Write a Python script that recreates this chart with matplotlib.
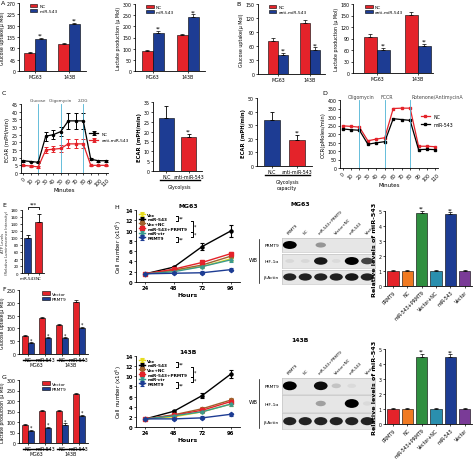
import numpy as np
import matplotlib
matplotlib.use('Agg')
import matplotlib.pyplot as plt
from matplotlib.patches import Ellipse
from matplotlib.lines import Line2D

W, H = 474, 460
RED = '#e4232a'
BLUE = '#1d3c93'

# ---- A / B : glucose uptake and lactate production ----
cells = ['MG63', '143B']
a1_nc, a1_nc_err = [72, 108], [4, 4]
a1_mir, a1_mir_err = [128, 187], [5, 5]
a2_nc, a2_nc_err = [90, 160], [6, 5]
a2_mir, a2_mir_err = [172, 243], [8, 10]
b1_nc, b1_nc_err = [70, 110], [7, 6]
b1_anti, b1_anti_err = [40, 51], [6, 6]
b2_nc, b2_nc_err = [95, 152], [7, 6]
b2_anti, b2_anti_err = [60, 70], [6, 6]

# ---- C : ECAR ----
minutes = [0, 10, 20, 30, 40, 50, 60, 70, 80, 90, 100, 110]
ecar_nc = [8, 7.5, 7, 24, 25, 27, 34, 34, 34, 9, 8, 8]
ecar_nc_err = [0.5, 0.5, 0.5, 3, 3, 3, 5, 5, 5, 0.5, 0.5, 0.5]
ecar_anti = [5, 4.5, 4, 15, 15.5, 16, 19, 19, 19, 5, 5, 5]
ecar_anti_err = [0.5, 0.5, 0.5, 2, 2, 2, 3, 3, 3, 0.5, 0.5, 0.5]
ecar_groups = ['N.C', 'anti-miR-543']
glycolysis, glycolysis_err = [27, 17], [6, 2]
capacity, capacity_err = [34, 19], [6, 4]

# ---- D : OCR ----
ocr_nc = [248, 245, 240, 160, 170, 178, 350, 352, 352, 128, 128, 125]
ocr_mir = [230, 225, 222, 140, 148, 155, 290, 285, 280, 108, 110, 108]

# ---- E : ATP ----
atp_groups = ['miR-543', 'NC']
atp, atp_err = [100, 147], [10, 23]

# ---- F / G ----
fg_groups = ['NC', 'miR-543', 'NC', 'miR-543']
f_vector, f_vector_err = [70, 140, 113, 203], [5, 5, 5, 6]
f_prmt9, f_prmt9_err = [42, 62, 62, 102], [4, 4, 4, 5]
g_vector, g_vector_err = [85, 153, 153, 233], [5, 5, 5, 6]
g_prmt9, g_prmt9_err = [58, 72, 88, 128], [4, 4, 5, 6]

# ---- H : growth curves ----
hours = [24, 48, 72, 96]
growth_names = ['Vec', 'miR-543', 'Vec+NC', 'miR-543+PRMT9', 'miR-ctr', 'PRMT9']
growth_colors = ['#e6dc1e', 'black', '#a0622d', RED, '#3b9a8c', BLUE]
growth_markers = ['v', 'o', 'h', 's', 'P', 'D']
mg63_vec = [1.6, 2.2, 3.0, 4.5]
mg63_mir = [1.6, 2.9, 6.9, 9.9]
mg63_vecnc = [1.6, 2.3, 3.3, 5.0]
mg63_mirprmt9 = [1.6, 2.5, 3.8, 5.5]
mg63_mirctr = [1.6, 2.0, 3.0, 4.3]
mg63_prmt9 = [1.6, 1.7, 1.8, 2.4]
mg63_mir_err = [0.1, 0.2, 0.6, 1.2]
b143_vec = [1.6, 2.0, 3.0, 4.5]
b143_mir = [1.6, 3.1, 6.2, 10.4]
b143_vecnc = [1.6, 2.4, 3.6, 5.3]
b143_mirprmt9 = [1.6, 2.3, 3.3, 5.0]
b143_mirctr = [1.6, 2.2, 3.0, 4.5]
b143_prmt9 = [1.6, 1.6, 1.8, 2.5]
b143_mir_err = [0.1, 0.2, 0.5, 0.8]

# ---- H : western blots and qPCR ----
lanes = ['PRMT9', 'NC', 'miR-543+PRMT9', 'Vector+NC', 'miR-543', 'Vector']
lane_colors = ['#e4232a', '#f07a22', '#2f8f3f', '#2a8fae', '#1d3c93', '#7a3b97']
mg63_prmt9_band = [1.0, 0.0, 0.35, 0.0, 0.0, 0.0]
mg63_hif_band = [0.06, 0.06, 0.9, 0.05, 1.0, 0.7]
mg63_actin_band = [0.85, 0.85, 0.85, 0.85, 0.9, 0.85]
b143_prmt9_band = [1.0, 0.0, 0.95, 0.15, 0.05, 0.0]
b143_hif_band = [0.0, 0.0, 0.3, 0.0, 1.0, 0.05]
b143_actin_band = [0.85, 0.85, 0.85, 0.85, 0.85, 0.85]
mg63_levels, mg63_levels_err = [1.0, 1.0, 4.9, 1.0, 4.8, 1.0], [0.08, 0.08, 0.1, 0.05, 0.12, 0.08]
b143_levels, b143_levels_err = [1.0, 1.0, 4.5, 1.0, 4.45, 1.0], [0.08, 0.08, 0.2, 0.05, 0.2, 0.08]

FS = 3.4
fig = plt.figure(figsize=(W / 100, H / 100), dpi=100)


def px_axes(x0, y0, x1, y1):
    return fig.add_axes([x0 / W, 1 - y1 / H, (x1 - x0) / W, (y1 - y0) / H])


def style(ax):
    for s in ['top', 'right']:
        ax.spines[s].set_visible(False)
    for s in ['left', 'bottom']:
        ax.spines[s].set_linewidth(0.6)
    ax.tick_params(labelsize=FS, length=1.5, width=0.5, pad=1)


def pair_bars(ax, groups, a, a_err, b, b_err, names, ymax, step, ylabel, xlim, stars='**'):
    x = np.arange(len(groups))
    w = 0.32
    kw = dict(edgecolor='black', linewidth=0.4, capsize=1.2,
              error_kw=dict(elinewidth=0.5, capthick=0.5))
    ax.bar(x - w / 2, a, w, yerr=[np.zeros(len(a)), a_err], color=RED, label=names[0], **kw)
    ax.bar(x + w / 2, b, w, yerr=[np.zeros(len(b)), b_err], color=BLUE, label=names[1], **kw)
    for xi, v, e in zip(x + w / 2, b, b_err):
        ax.text(xi, v + e, stars, ha='center', va='bottom', fontsize=FS)
    ax.set_ylim(0, ymax)
    ax.set_yticks(np.arange(0, ymax + 1, step))
    ax.set_xlim(*xlim)
    ax.set_xticks(x)
    ax.set_xticklabels(groups)
    ax.set_ylabel(ylabel, fontsize=FS, labelpad=1)
    style(ax)
    ax.legend(loc='upper left', bbox_to_anchor=(0.12, 1.03), fontsize=FS - 0.2, frameon=False,
              handlelength=1.7, handleheight=0.8, borderaxespad=0.2, labelspacing=0.25,
              handletextpad=0.5)


# A
ax = px_axes(19, 4, 86, 72)
pair_bars(ax, cells, a1_nc, a1_nc_err, a1_mir, a1_mir_err, ['NC', 'miR-543'], 270, 45,
          'Glucose uptake(\u03bc Mol)', (-0.48, 1.5))
ax = px_axes(135, 5, 205, 72)
pair_bars(ax, cells, a2_nc, a2_nc_err, a2_mir, a2_mir_err, ['NC', 'miR-543'], 300, 50,
          'Lactate production (\u03bc Mol)', (-0.51, 1.49))
# B
ax = px_axes(258, 5, 325, 75)
pair_bars(ax, cells, b1_nc, b1_nc_err, b1_anti, b1_anti_err, ['NC', 'anti-miR-543'], 150, 30,
          'Glucose uptake(\u03bc Mol)', (-0.62, 1.47))
ax = px_axes(353, 5, 433, 74)
pair_bars(ax, cells, b2_nc, b2_nc_err, b2_anti, b2_anti_err, ['NC', 'anti-miR-543'], 180, 30,
          'Lactate production (\u03bc Mol)', (-0.59, 1.38))

# C - ECAR time course
ax = px_axes(21, 105, 108, 174)
ax.errorbar(minutes, ecar_nc, yerr=ecar_nc_err, color='black', marker='o', ms=1.5, lw=0.9,
            elinewidth=0.7, capsize=1.5, capthick=0.7, label='NC')
ax.errorbar(minutes, ecar_anti, yerr=ecar_anti_err, color=RED, marker='s', ms=1.5, lw=0.9,
            elinewidth=0.7, capsize=1.5, capthick=0.7, label='anti-miR-543')
for m, name in zip([20, 50, 80], ['Glucose', 'Oligomycin', '2-DG']):
    ax.axvline(m, color='#4cb3d4', lw=0.6)
    ax.text(m, 46.5, name, ha='center', va='bottom', fontsize=FS - 0.4, color='#444444')
ax.set_ylim(0, 45)
ax.set_yticks(np.arange(0, 46, 5))
ax.set_xlim(-3, 113)
ax.set_xticks(minutes)
ax.set_xticklabels(minutes, rotation=45)
ax.set_xlabel('Minutes', fontsize=FS + 0.6, labelpad=0.5)
ax.set_ylabel('ECAR (mPH/min)', fontsize=FS + 0.4, labelpad=1)
style(ax)
ax.legend(loc='center left', bbox_to_anchor=(0.74, 0.52), fontsize=FS - 0.3, frameon=False,
          handlelength=2, labelspacing=0.6)


def ecar_bars(ax, vals, errs, ymax, step, title):
    x = np.arange(2)
    ax.bar(x, vals, 0.65, yerr=[[0, 0], errs], color=[BLUE, RED], edgecolor='black', linewidth=0.4,
           capsize=1.5, error_kw=dict(elinewidth=0.6, capthick=0.6))
    ax.text(1, vals[1] + errs[1], '**', ha='center', va='bottom', fontsize=FS)
    ax.set_xlim(-0.6, 1.6)
    ax.set_ylim(0, ymax)
    ax.set_yticks(np.arange(0, ymax + 1, step))
    ax.set_xticks(x)
    ax.set_xticklabels(ecar_groups)
    ax.set_ylabel('ECAR (mPH/min)', fontsize=FS + 0.4, labelpad=1, weight='bold')
    style(ax)
    ax.plot([-0.3, 1.5], [-0.13 * ymax, -0.13 * ymax], color='black', lw=1.0, clip_on=False)
    ax.text(0.6, -0.19 * ymax, title, ha='center', va='top', fontsize=FS)


ax = px_axes(153, 103, 202, 172)
ecar_bars(ax, glycolysis, glycolysis_err, 35, 5, 'Glycolysis')
ax = px_axes(257, 99, 312, 167)
ecar_bars(ax, capacity, capacity_err, 50, 10, 'Glycolysis\ncapacity')

# D - OCR
ax = px_axes(340, 101, 438, 169)
ax.plot(minutes, ocr_nc, color=RED, marker='s', ms=1.5, lw=0.9, label='NC')
ax.plot(minutes, ocr_mir, color='black', marker='s', ms=1.5, lw=0.9, label='miR-543')
for m, name in zip([20, 50, 80], ['Oligomycin', 'FCCR', 'Rotenone/AntimycinA']):
    ax.axvline(m, color='#4cb3d4', lw=0.6)
    ax.text(m + 2, 408, name, ha='left' if m == 80 else 'center', va='bottom', fontsize=FS,
            color='#444444')
ax.set_ylim(0, 400)
ax.set_yticks(np.arange(0, 401, 50))
ax.set_xlim(-3, 113)
ax.set_xticks(minutes)
ax.set_xticklabels(minutes, rotation=45)
ax.set_xlabel('Minutes', fontsize=FS + 0.6, labelpad=0.5)
ax.set_ylabel('OCR(pMoles/min)', fontsize=FS + 0.4, labelpad=1)
style(ax)
ax.legend(loc='center left', bbox_to_anchor=(0.78, 0.7), fontsize=FS, frameon=False,
          handlelength=2, labelspacing=0.6)

# E - ATP
ax = px_axes(22, 211, 44, 274)
ax.bar([0, 1], atp, 0.62, yerr=[[0, 0], atp_err], color=[BLUE, RED], edgecolor='black',
       linewidth=0.4, capsize=1.5, error_kw=dict(elinewidth=0.6, capthick=0.6))
ax.plot([0, 0, 1, 1], [182, 190, 190, 182], color='black', lw=0.6, clip_on=False)
ax.text(0.5, 190, '***', ha='center', va='bottom', fontsize=FS)
ax.set_xlim(-0.5, 1.5)
ax.set_ylim(0, 180)
ax.set_yticks(np.arange(0, 181, 20))
ax.set_xticks([0, 1])
ax.set_xticklabels(atp_groups)
ax.set_ylabel('ATP Levels\n(Relative Luminescence Intensity)', fontsize=FS - 0.7,
              color='#333333', linespacing=1.0)
style(ax)
ax.tick_params(labelsize=FS - 0.5)
ax.yaxis.set_label_coords(-0.6, 0.5)


def fg_bars(ax, vec, vec_err, prm, prm_err, ymax, ylabel):
    x = np.arange(len(fg_groups))
    w = 0.36
    kw = dict(edgecolor='black', linewidth=0.4, capsize=1.2,
              error_kw=dict(elinewidth=0.5, capthick=0.5))
    ax.bar(x - w / 2, vec, w, yerr=[np.zeros(4), vec_err], color=RED, label='Vector', **kw)
    ax.bar(x + w / 2, prm, w, yerr=[np.zeros(4), prm_err], color=BLUE, label='PRMT9', **kw)
    for xi, v, e in zip(x + w / 2, prm, prm_err):
        ax.text(xi, v + e, '*', ha='center', va='bottom', fontsize=FS)
    ax.set_xlim(-0.55, 3.55)
    ax.set_ylim(0, ymax)
    ax.set_yticks(np.arange(0, ymax + 1, 50))
    ax.set_xticks(x)
    ax.set_xticklabels(fg_groups)
    ax.set_ylabel(ylabel, fontsize=FS - 0.1, labelpad=1)
    style(ax)
    for gx, gname in zip([0.5, 2.5], ['MG63', '143B']):
        ax.plot([gx - 0.8, gx + 0.8], [-0.1 * ymax, -0.1 * ymax], color='black', lw=1.0, clip_on=False)
        ax.text(gx, -0.13 * ymax, gname, ha='center', va='top', fontsize=FS)
    ax.legend(loc='upper left', bbox_to_anchor=(0.28, 1.04), fontsize=FS - 0.2, frameon=False,
              handlelength=1.7, handleheight=0.8, labelspacing=0.2, handletextpad=0.5)


ax = px_axes(19, 291, 88, 355)
fg_bars(ax, f_vector, f_vector_err, f_prmt9, f_prmt9_err, 250, 'Glucose uptake(\u03bc Mol)')
ax = px_axes(19, 381, 88, 444)
fg_bars(ax, g_vector, g_vector_err, g_prmt9, g_prmt9_err, 300, 'Lactate production (\u03bc Mol)')


# H - growth curves
def growth(ax, series, mir_err, title):
    for i, (vals, name, c, mk) in enumerate(zip(series, growth_names, growth_colors, growth_markers)):
        err = mir_err if i == 1 else [0.1, 0.2, 0.3, 0.35]
        ax.errorbar(hours, vals, yerr=err, color=c, marker=mk, ms=2.2 if i != 2 else 3,
                    lw=1.0, elinewidth=0.8, capsize=1.5, capthick=0.8, label=name)
    ax.set_xlim(16, 104)
    ax.set_ylim(0, 14)
    ax.set_yticks(np.arange(0, 15, 2))
    ax.set_xticks(hours)
    ax.set_xlabel('Hours', fontsize=FS + 1, labelpad=1, weight='bold')
    ax.set_ylabel('Cell number (x10$^5$)', fontsize=FS + 0.6, labelpad=1)
    ax.set_title(title, fontsize=FS + 1, weight='bold', pad=2)
    style(ax)
    ax.tick_params(labelsize=FS + 0.4)
    for t in ax.get_xticklabels() + ax.get_yticklabels():
        t.set_weight('bold')
    leg = ax.legend(loc='upper left', bbox_to_anchor=(0.0, 1.0), fontsize=FS - 0.3, frameon=False,
                    handlelength=1.6, labelspacing=0.15, borderaxespad=0.2, handletextpad=0.4)
    for t in leg.get_texts():
        t.set_weight('bold')
    # significance brackets
    tr = ax.transAxes
    for (y0, y1, xb, s) in [(0.92, 0.85, 0.40, '**'), (0.85, 0.70, 0.55, '*'),
                           (0.70, 0.63, 0.55, '*'), (0.63, 0.55, 0.40, '**')]:
        ax.plot([xb - 0.02, xb, xb, xb - 0.02], [y0, y0, y1, y1], color='black', lw=0.7,
                transform=tr)
        ax.text(xb + 0.01, (y0 + y1) / 2, s, transform=tr, fontsize=FS, va='center')


ax = px_axes(136, 211, 240, 283)
growth(ax, [mg63_vec, mg63_mir, mg63_vecnc, mg63_mirprmt9, mg63_mirctr, mg63_prmt9], mg63_mir_err, 'MG63')
ax = px_axes(136, 357, 240, 428)
growth(ax, [b143_vec, b143_mir, b143_vecnc, b143_mirprmt9, b143_mirctr, b143_prmt9], b143_mir_err, '143B')


def blot(rows, top, bottom, title, title_y):
    names = ['PRMT9', 'HIF-1\u03b1', '\u03b2-Actin']
    h = (bottom - top) / 3
    for r, (bands, name) in enumerate(zip(rows, names)):
        ax = px_axes(282, top + r * h + 0.8, 375, top + (r + 1) * h - 0.8)
        ax.set_facecolor('#e6e6e6')
        ax.set_xlim(0.5, 6.5)
        ax.set_ylim(0, 1)
        for i, v in enumerate(bands):
            if v > 0:
                ax.add_patch(Ellipse((i + 1, 0.5), 0.55 + 0.35 * v, 0.25 + 0.3 * v,
                                     color='black', alpha=min(1, v), lw=0))
        ax.set_yticks([0.5])
        ax.set_yticklabels([name])
        ax.tick_params(length=0, labelsize=FS - 0.2, pad=2)
        for s in ax.spines.values():
            s.set_color('#bbbbbb')
            s.set_linewidth(0.4)
        if r == 0:
            ax.xaxis.tick_top()
            ax.set_xticks(range(1, 7))
            ax.set_xticklabels(lanes, rotation=45, ha='left', rotation_mode='anchor', fontsize=FS - 0.6)
        else:
            ax.set_xticks([])
    fig.text(300 / W, 1 - title_y / H, title, fontsize=FS + 1, weight='bold', ha='center')
    fig.text(253 / W, 1 - (top + 1.4 * h) / H, 'WB', fontsize=FS + 0.5, va='center', ha='center')
    fig.add_artist(Line2D([259 / W, 259 / W], [1 - (top + 0.1 * h) / H, 1 - (top + 2.9 * h) / H],
                          color='black', lw=0.5))


blot([mg63_prmt9_band, mg63_hif_band, mg63_actin_band], 238, 286, 'MG63', 206)
blot([b143_prmt9_band, b143_hif_band, b143_actin_band], 378, 431, '143B', 342)


def level_bars(ax, vals, errs):
    x = np.arange(len(lanes))
    ax.bar(x, vals, 0.78, yerr=[np.zeros(6), errs], color=lane_colors, edgecolor='black',
           linewidth=0.4, capsize=1.2, error_kw=dict(elinewidth=0.5, capthick=0.5))
    for i in [2, 4]:
        ax.text(i, vals[i] + errs[i], '**', ha='center', va='bottom', fontsize=FS)
    ax.set_xlim(-0.55, 5.5)
    ax.set_ylim(0, 5)
    ax.set_yticks(range(6))
    ax.set_xticks(x)
    ax.set_xticklabels(lanes, rotation=45, ha='right', rotation_mode='anchor', fontsize=FS - 0.6)
    ax.set_ylabel('Relative levels of miR-543', fontsize=FS + 1.2, labelpad=1, weight='bold')
    style(ax)


ax = px_axes(385, 212, 472, 287)
level_bars(ax, mg63_levels, mg63_levels_err)
ax = px_axes(385, 350, 472, 425)
level_bars(ax, b143_levels, b143_levels_err)

# panel letters
for letter, (lx, ly) in {'A': (1, 1), 'B': (236, 2), 'C': (2, 91), 'D': (322, 91), 'E': (2, 203),
                         'F': (2, 287), 'G': (2, 375), 'H': (114, 205)}.items():
    fig.text(lx / W, 1 - ly / H, letter, fontsize=4.5, va='top', ha='left')

fig.savefig('out.png', dpi=100, facecolor='white')
